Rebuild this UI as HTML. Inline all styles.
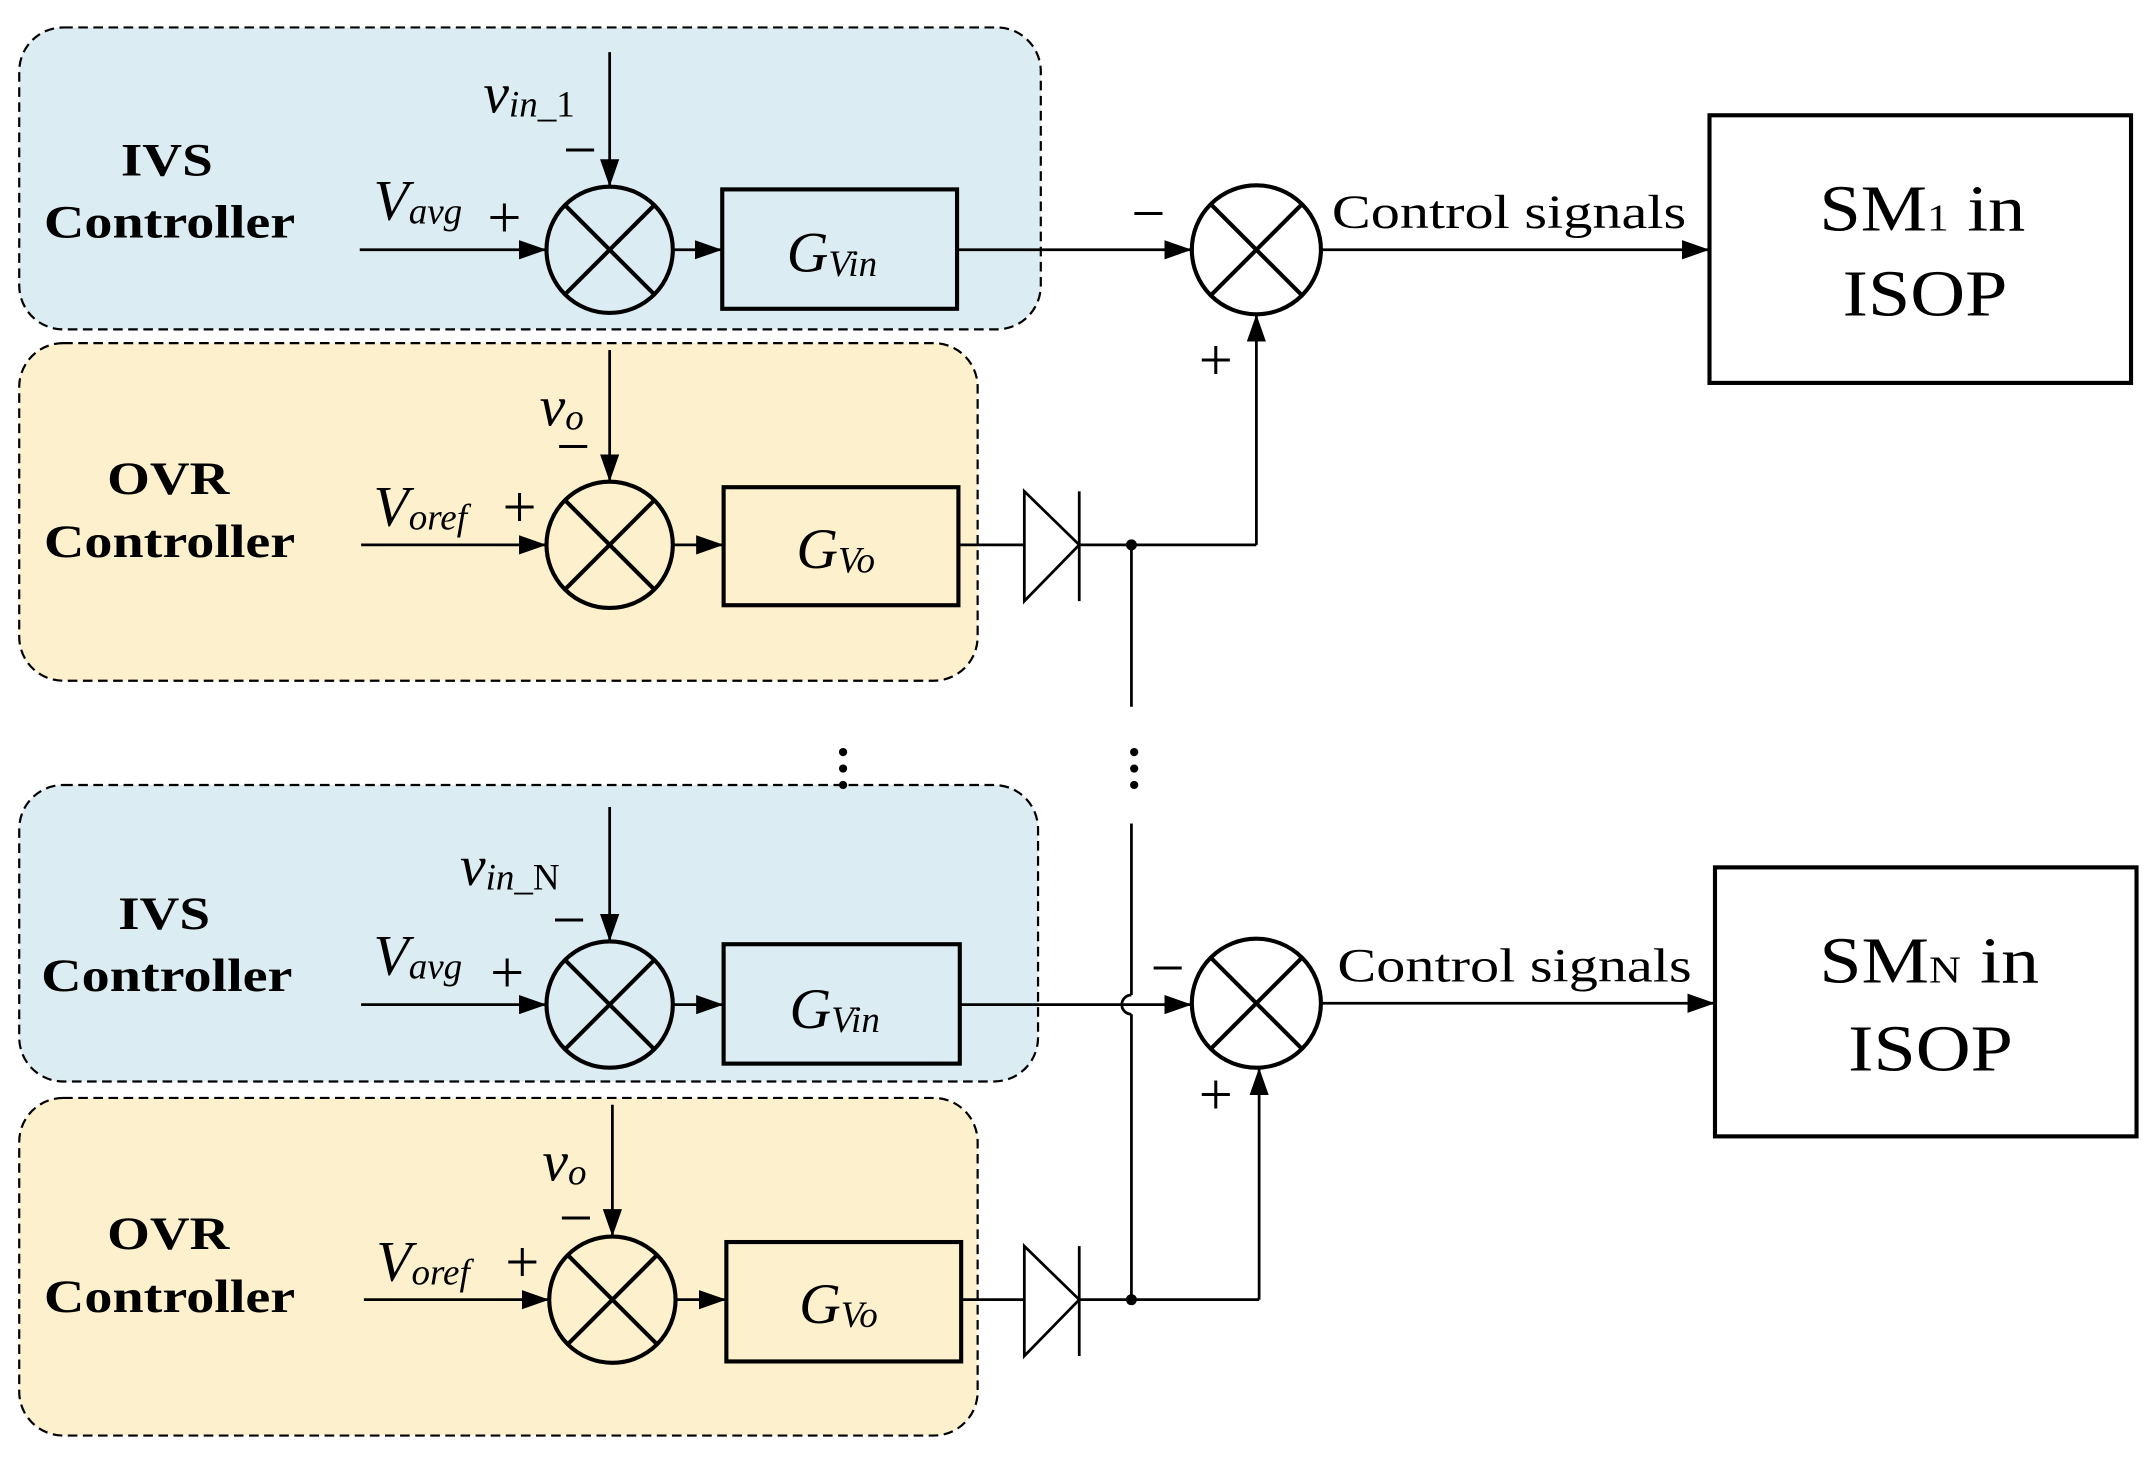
<!DOCTYPE html>
<html><head><meta charset="utf-8"><style>
html,body{margin:0;padding:0;background:#fff}
svg{display:block}
text{font-family:"Liberation Serif",serif;fill:#000}
.b{font-weight:bold;font-size:34px}
.i{font-style:italic}
.s{font-size:44px}
</style></head><body>
<svg width="2153" height="1463" viewBox="0 0 1568 1066" preserveAspectRatio="none">
<defs>
<marker id="ah" viewBox="0 0 20 14" markerWidth="20" markerHeight="14" refX="20" refY="7" orient="auto" markerUnits="userSpaceOnUse"><path d="M0,0 L20,7 L0,14 Z"/></marker>
</defs>
<g stroke="#000" stroke-width="1.6" stroke-dasharray="7,4">
<rect x="14" y="20" width="744" height="220" rx="32" fill="#dbecf2"/>
<rect x="14" y="250" width="698" height="246" rx="32" fill="#fdf0cc"/>
<rect x="14" y="572" width="742" height="216" rx="32" fill="#dbecf2"/>
<rect x="14" y="800" width="698" height="246" rx="32" fill="#fdf0cc"/>
</g>
<g class="b">
<text x="88" y="128" textLength="67" lengthAdjust="spacingAndGlyphs">IVS</text><text x="32" y="173" textLength="183" lengthAdjust="spacingAndGlyphs">Controller</text>
<text x="78" y="360" textLength="89" lengthAdjust="spacingAndGlyphs">OVR</text><text x="32" y="406" textLength="183" lengthAdjust="spacingAndGlyphs">Controller</text>
<text x="86" y="677" textLength="67" lengthAdjust="spacingAndGlyphs">IVS</text><text x="30" y="722" textLength="183" lengthAdjust="spacingAndGlyphs">Controller</text>
<text x="78" y="910" textLength="89" lengthAdjust="spacingAndGlyphs">OVR</text><text x="32" y="956" textLength="183" lengthAdjust="spacingAndGlyphs">Controller</text>
</g>
<g fill="none" stroke="#000" stroke-width="2">
<circle cx="444" cy="182" r="46" stroke-width="3"/>
<path d="M411,149 L477,215 M477,149 L411,215" stroke-width="3"/>
<line x1="262" y1="182" x2="398" y2="182" marker-end="url(#ah)"/>
<line x1="444" y1="38" x2="444" y2="136" marker-end="url(#ah)"/>
<line x1="490" y1="182" x2="526" y2="182" marker-end="url(#ah)"/>
<rect x="526" y="138" width="171" height="87" stroke-width="3"/>
<line x1="697" y1="182" x2="868" y2="182" marker-end="url(#ah)"/>
<circle cx="915" cy="182" r="47" stroke-width="3"/>
<path d="M882,149 L948,215 M948,149 L882,215" stroke-width="3"/>
<line x1="962" y1="182" x2="1245" y2="182" marker-end="url(#ah)"/>
<rect x="1245" y="84" width="307" height="195" stroke-width="3"/>
<line x1="915" y1="397" x2="915" y2="229" marker-end="url(#ah)"/>
<circle cx="444" cy="397" r="46" stroke-width="3"/>
<path d="M411,364 L477,430 M477,364 L411,430" stroke-width="3"/>
<line x1="263" y1="397" x2="398" y2="397" marker-end="url(#ah)"/>
<line x1="444" y1="255" x2="444" y2="351" marker-end="url(#ah)"/>
<line x1="490" y1="397" x2="527" y2="397" marker-end="url(#ah)"/>
<rect x="527" y="355" width="171" height="86" stroke-width="3"/>
<line x1="698" y1="397" x2="746" y2="397"/>
<path d="M746,358 L786,397 L746,438 Z M786,358 L786,438"/>
<line x1="786" y1="397" x2="915" y2="397"/>
<line x1="824" y1="397" x2="824" y2="515"/>
<line x1="824" y1="600" x2="824" y2="725"/>
<path d="M824,725 A7,7 0 0 0 824,739"/>
<line x1="824" y1="739" x2="824" y2="947"/>
<circle cx="444" cy="732" r="46" stroke-width="3"/>
<path d="M411,699 L477,765 M477,699 L411,765" stroke-width="3"/>
<line x1="263" y1="732" x2="398" y2="732" marker-end="url(#ah)"/>
<line x1="444" y1="588" x2="444" y2="686" marker-end="url(#ah)"/>
<line x1="490" y1="732" x2="527" y2="732" marker-end="url(#ah)"/>
<rect x="527" y="688" width="172" height="87" stroke-width="3"/>
<line x1="699" y1="732" x2="868" y2="732" marker-end="url(#ah)"/>
<circle cx="915" cy="731" r="47" stroke-width="3"/>
<path d="M882,698 L948,764 M948,698 L882,764" stroke-width="3"/>
<line x1="962" y1="731" x2="1249" y2="731" marker-end="url(#ah)"/>
<rect x="1249" y="632" width="307" height="196" stroke-width="3"/>
<line x1="917" y1="947" x2="917" y2="778" marker-end="url(#ah)"/>
<circle cx="446" cy="947" r="46" stroke-width="3"/>
<path d="M413,914 L479,980 M479,914 L413,980" stroke-width="3"/>
<line x1="265" y1="947" x2="400" y2="947" marker-end="url(#ah)"/>
<line x1="446" y1="805" x2="446" y2="901" marker-end="url(#ah)"/>
<line x1="492" y1="947" x2="529" y2="947" marker-end="url(#ah)"/>
<rect x="529" y="905" width="171" height="87" stroke-width="3"/>
<line x1="700" y1="947" x2="746" y2="947"/>
<path d="M746,908 L786,947 L746,988 Z M786,908 L786,988"/>
<line x1="786" y1="947" x2="917" y2="947"/>
</g>
<g fill="#000">
<circle cx="824" cy="397" r="4"/><circle cx="824" cy="947" r="4"/>
<circle cx="614" cy="548" r="3"/><circle cx="614" cy="560" r="3"/><circle cx="614" cy="572" r="3"/>
<circle cx="826" cy="548" r="3"/><circle cx="826" cy="560" r="3"/><circle cx="826" cy="572" r="3"/>
</g>
<g font-size="42">
<text x="272" y="160" class="i">V<tspan font-size="27" dy="3">avg</tspan></text>
<text x="355" y="173" class="s">+</text>
<text x="352" y="82" class="i">v<tspan font-size="27" dy="3">in_</tspan><tspan font-size="27" font-style="normal">1</tspan></text>
<text x="410" y="124" class="s">−</text>
<text x="573" y="198" class="i">G<tspan font-size="27" dy="3">Vin</tspan></text>
<text x="824" y="170" class="s">−</text>
<text x="873" y="277" class="s">+</text>
<text x="970" y="166" font-size="35" textLength="258" lengthAdjust="spacingAndGlyphs">Control signals</text>
<text x="1325" y="168" font-size="48" textLength="150" lengthAdjust="spacingAndGlyphs">SM<tspan font-size="28">1</tspan> in</text>
<text x="1342" y="230" font-size="48" textLength="120" lengthAdjust="spacingAndGlyphs">ISOP</text>

<text x="272" y="383" class="i">V<tspan font-size="27" dy="3">oref</tspan></text>
<text x="366" y="384" class="s">+</text>
<text x="393" y="310" class="i">v<tspan font-size="27" dy="3">o</tspan></text>
<text x="405" y="340" class="s">−</text>
<text x="580" y="414" class="i">G<tspan font-size="27" dy="3">Vo</tspan></text>

<text x="272" y="710" class="i">V<tspan font-size="27" dy="3">avg</tspan></text>
<text x="357" y="723" class="s">+</text>
<text x="335" y="645" class="i">v<tspan font-size="27" dy="3">in_</tspan><tspan font-size="27" font-style="normal">N</tspan></text>
<text x="402" y="685" class="s">−</text>
<text x="575" y="749" class="i">G<tspan font-size="27" dy="3">Vin</tspan></text>
<text x="838" y="720" class="s">−</text>
<text x="873" y="812" class="s">+</text>
<text x="974" y="715" font-size="35" textLength="258" lengthAdjust="spacingAndGlyphs">Control signals</text>
<text x="1325" y="716" font-size="48" textLength="160" lengthAdjust="spacingAndGlyphs">SM<tspan font-size="28">N</tspan> in</text>
<text x="1346" y="780" font-size="48" textLength="120" lengthAdjust="spacingAndGlyphs">ISOP</text>

<text x="274" y="933" class="i">V<tspan font-size="27" dy="3">oref</tspan></text>
<text x="368" y="934" class="s">+</text>
<text x="395" y="860" class="i">v<tspan font-size="27" dy="3">o</tspan></text>
<text x="407" y="902" class="s">−</text>
<text x="582" y="964" class="i">G<tspan font-size="27" dy="3">Vo</tspan></text>
</g>
</svg>
</body></html>
